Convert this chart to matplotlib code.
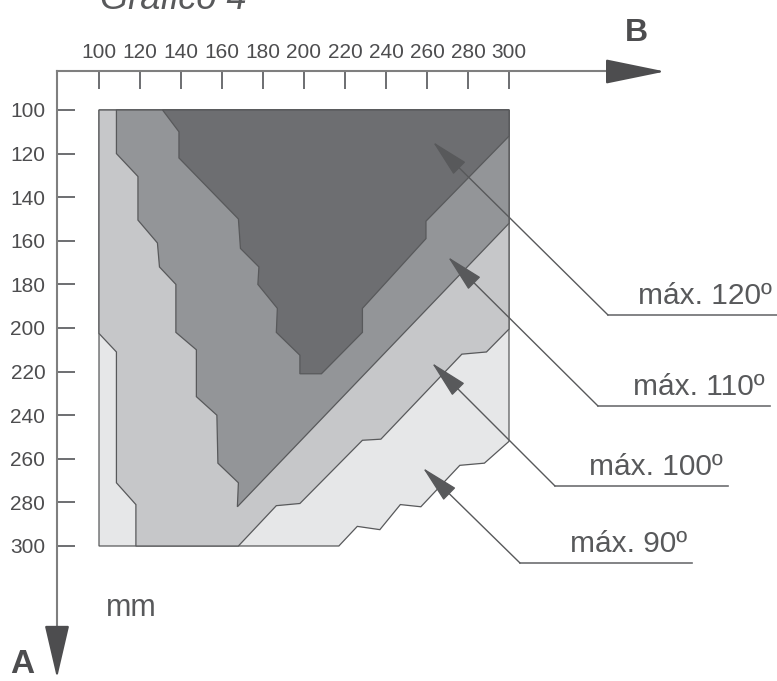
import matplotlib.pyplot as plt

plt.rcParams['font.family'] = ['Liberation Sans', 'DejaVu Sans']

# axis ticks (mm)
tick_b = [100, 120, 140, 160, 180, 200, 220, 240, 260, 280, 300]
tick_a = [100, 120, 140, 160, 180, 200, 220, 240, 260, 280, 300]

# zone outlines: B (horizontal) and A (vertical), mm
zone_90_b = [100, 300, 300, 288, 276, 257, 247, 237, 226, 217, 100]
zone_90_a = [100, 100, 252, 262, 263, 282, 281, 292.5, 291, 300, 300]

zone_100_b = [100, 300, 300, 289, 277, 237.5, 228.5, 198, 186.5, 168, 118, 118, 108.5, 108.5, 100]
zone_100_a = [100, 100, 200.5, 211, 212, 251, 251.5, 280.5, 281.5, 300, 300, 281, 271, 211, 202.5]

zone_110_b = [108.5, 108.5, 119, 119, 128.5, 129.5, 137.5, 137.5, 147.5, 147.5, 157.5, 158, 168, 167.5, 300, 300]
zone_110_a = [100, 120, 130.5, 150.5, 161, 172, 180, 202, 210, 231.5, 240, 262, 271, 282, 152, 100]

zone_120_b = [131, 139, 139, 168, 169, 178, 177.5, 187, 186.5, 198, 198, 208.5, 228.5, 228.5, 259.5, 259.5, 300, 300]
zone_120_a = [100, 110, 122, 150, 163.5, 172, 180, 191, 202, 212.5, 221, 221, 202, 191, 159, 151, 112, 100]

zone_labels = ['máx. 90º', 'máx. 100º', 'máx. 110º', 'máx. 120º']
zone_colors = ['#e6e7e8', '#c6c7c9', '#939598', '#6d6e71']

# layout in pixels of the 777x681 picture
W, H = 777, 681
PX0, PXS = 99, 2.05     # B=100 at x=99 px, 2.05 px per mm
PY0, PYS = 110, 2.18    # A=100 at y=110 px, 2.18 px per mm


def to_b(px):
    return 100 + (px - PX0) / PXS


def to_a(py):
    return 100 + (py - PY0) / PYS


fig = plt.figure(figsize=(W / 100, H / 100), dpi=100)
ax = fig.add_axes([0, 0, 1, 1])
ax.set_xlim(to_b(0), to_b(W))
ax.set_ylim(to_a(H), to_a(0))
ax.patch.set_visible(False)

edge = '#58595b'
zones = [(zone_90_b, zone_90_a), (zone_100_b, zone_100_a),
         (zone_110_b, zone_110_a), (zone_120_b, zone_120_a)]
for (zb, za), c in zip(zones, zone_colors):
    ax.fill(zb, za, facecolor=c, edgecolor=edge, lw=0.9, zorder=2)

# axes with arrows
axis_b = to_b(57)
axis_a = to_a(71.5)
for s in ['bottom', 'right']:
    ax.spines[s].set_visible(False)
ax.spines['top'].set_position(('data', axis_a))
ax.spines['top'].set_bounds(axis_b, to_b(640))
ax.spines['left'].set_position(('data', axis_b))
ax.spines['left'].set_bounds(axis_a, to_a(660))
for s in ['top', 'left']:
    ax.spines[s].set_color('#7f7f7f')
    ax.spines[s].set_linewidth(1.5)

ax.annotate('', xy=(to_b(665), axis_a), xytext=(to_b(612), axis_a),
            arrowprops=dict(arrowstyle='-|>,head_length=3.8,head_width=0.78',
                            color='#4d4d4f', lw=1.5, shrinkA=0, shrinkB=0,
                            mutation_scale=10))
ax.annotate('', xy=(axis_b, to_a(678)), xytext=(axis_b, to_a(632)),
            arrowprops=dict(arrowstyle='-|>,head_length=3.35,head_width=0.78',
                            color='#4d4d4f', lw=1.5, shrinkA=0, shrinkB=0,
                            mutation_scale=10))

ax.set_xticks(tick_b)
ax.set_yticks(tick_a)
ax.xaxis.set_ticks_position('top')
ax.yaxis.set_ticks_position('left')
ax.tick_params(axis='x', direction='in', length=13, width=1.4, pad=6.5,
               labelsize=15, color='#6d6e71', labelcolor='#4d4d4f',
               top=True, bottom=False, labeltop=True, labelbottom=False)
ax.tick_params(axis='y', direction='in', length=13, width=1.4, pad=8.4,
               labelsize=15, color='#6d6e71', labelcolor='#4d4d4f')

ax.text(to_b(625), to_a(41.5), 'B', fontsize=23, fontweight='bold', color='#4d4d4f')
ax.text(to_b(10), to_a(673), 'A', fontsize=24, fontweight='bold', color='#4d4d4f')
ax.text(to_b(106), to_a(616.5), 'mm', fontsize=22, color='#58595b')
ax.text(to_b(100), to_a(9), 'Gráfico 4', fontsize=26, style='italic', color='#58595b')

# leaders: arrow tip, elbow, end of underline (pixels)
tips = [(423, 468), (432, 363), (448, 257), (433, 142)]
elbows = [(520, 563), (555, 486), (598, 406), (608, 315)]
ends = [692, 728, 770, 777]
for lab, (tx, ty), (ex, ey), rx in zip(zone_labels, tips, elbows, ends):
    ax.annotate('', xy=(to_b(tx), to_a(ty)), xytext=(to_b(ex), to_a(ey)),
                arrowprops=dict(arrowstyle='-|>,head_length=2.4,head_width=0.55',
                                color=edge, lw=1.0, shrinkA=0, shrinkB=0,
                                mutation_scale=10), zorder=5)
    ax.plot([to_b(ex), to_b(rx)], [to_a(ey), to_a(ey)], color='#6d6e71', lw=1.2)
    ax.text(to_b(rx - 5), to_a(ey - 11), lab, fontsize=21.5, color='#58595b',
            ha='right', va='baseline')

fig.savefig('out.png', dpi=100)
